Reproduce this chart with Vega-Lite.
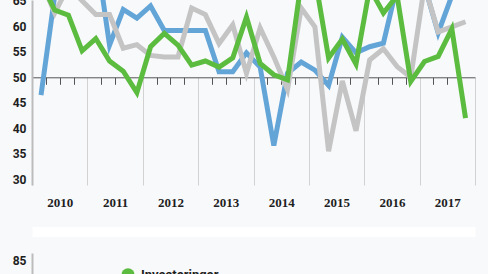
{
  "$schema": "https://vega.github.io/schema/vega-lite/v6.json",
  "background": "#f8f9fb",
  "padding": {"left": 12, "top": -6, "right": 13, "bottom": 0},
  "config": {
    "view": {"stroke": null},
    "axis": {"labelFont": "Roboto", "labelFontWeight": "bold", "labelColor": "#1e1e1e", "labelFontSize": 12}
  },
  "datasets": {
    "d": [
      {"t": 2010.163, "o": 46.5, "p": 69, "i": 68.6},
      {"t": 2010.410, "o": 66, "p": 62.6, "i": 63.2},
      {"t": 2010.658, "o": 70, "p": 67.9, "i": 62.2},
      {"t": 2010.905, "o": 72, "p": 65, "i": 55.2},
      {"t": 2011.152, "o": 75, "p": 62.3, "i": 57.6},
      {"t": 2011.400, "o": 56.3, "p": 62.3, "i": 53.2},
      {"t": 2011.647, "o": 63.3, "p": 55.7, "i": 51.2},
      {"t": 2011.894, "o": 61.6, "p": 56.4, "i": 47},
      {"t": 2012.141, "o": 64, "p": 54.3, "i": 56},
      {"t": 2012.389, "o": 59.2, "p": 54, "i": 58.6},
      {"t": 2012.636, "o": 59.2, "p": 54, "i": 56.3},
      {"t": 2012.883, "o": 59.2, "p": 63.6, "i": 52.4},
      {"t": 2013.131, "o": 59.2, "p": 62.3, "i": 53.2},
      {"t": 2013.378, "o": 51.1, "p": 56.6, "i": 52},
      {"t": 2013.625, "o": 51.1, "p": 60.3, "i": 53.8},
      {"t": 2013.873, "o": 54.8, "p": 50.8, "i": 61.8},
      {"t": 2014.120, "o": 52, "p": 59.7, "i": 52.7},
      {"t": 2014.367, "o": 36.6, "p": 54, "i": 50.5},
      {"t": 2014.614, "o": 50.8, "p": 47.6, "i": 49.5},
      {"t": 2014.862, "o": 53, "p": 63.6, "i": 68.8},
      {"t": 2015.109, "o": 51.4, "p": 59.9, "i": 69.6},
      {"t": 2015.356, "o": 48.4, "p": 35.5, "i": 53.8},
      {"t": 2015.604, "o": 57.9, "p": 49.3, "i": 57.5},
      {"t": 2015.851, "o": 54.8, "p": 39.5, "i": 52.6},
      {"t": 2016.098, "o": 56, "p": 53.4, "i": 67.5},
      {"t": 2016.346, "o": 56.7, "p": 55.6, "i": 62.6},
      {"t": 2016.593, "o": 68, "p": 52.1, "i": 66},
      {"t": 2016.840, "o": 70, "p": 50, "i": 49.2},
      {"t": 2017.087, "o": 68, "p": 68, "i": 53.1},
      {"t": 2017.335, "o": 58.7, "p": 58.9, "i": 54.1},
      {"t": 2017.582, "o": 66, "p": 59.9, "i": 59.5},
      {"t": 2017.829, "o": 69, "p": 60.9, "i": 42}
    ]
  },
  "bounds": "flush",
  "spacing": 68,
  "vconcat": [
    {
      "width": 443,
      "height": 185,
      "data": {"name": "d"},
      "resolve": {"axis": {"x": "independent", "y": "independent"}},
      "layer": [
        {
          "mark": {"type": "line", "strokeWidth": 5, "clip": true, "strokeJoin": "miter"},
          "encoding": {
            "x": {"field": "t", "type": "quantitative", "scale": {"domain": [2010, 2018], "nice": false, "zero": false},
              "axis": {"orient": "bottom", "values": [2010.5, 2011.5, 2012.5, 2013.5, 2014.5, 2015.5, 2016.5, 2017.5],
                "labelExpr": "'' + floor(datum.value)", "domain": false, "ticks": false, "tickSize": 0, "grid": false, "title": null,
                "labelFont": "Liberation Sans Narrow", "labelFontSize": 13, "labelPadding": 11}},
            "y": {"field": "o", "type": "quantitative", "scale": {"domain": [28.88, 65.16], "nice": false, "zero": false},
              "axis": {"values": [30, 35, 40, 45, 50, 55, 60, 65], "domainColor": "#bcbcbc", "domainWidth": 2, "ticks": false, "tickSize": 0,
                "labelPadding": 6, "grid": false, "title": null}},
            "color": {"datum": "Ordretilgang", "type": "nominal",
              "scale": {"domain": ["Investeringer", "Ordretilgang", "Produksjon"], "range": ["#5cbc40", "#64a5d8", "#c4c4c4"]},
              "legend": {"orient": "none", "legendX": 89, "legendY": 268, "title": null, "symbolType": "circle", "symbolSize": 180,
                "symbolStrokeWidth": 0, "labelFont": "Roboto", "labelFontWeight": "bold", "labelFontSize": 13, "labelColor": "#1e1e1e",
                "labelOffset": 6, "rowPadding": 10,
                "encode": {"symbols": {"update": {"fill": {"scale": "color", "field": "value"}, "strokeWidth": {"value": 0}}}}}}
          }
        },
        {
          "mark": {"type": "line", "strokeWidth": 5, "clip": true, "strokeJoin": "miter"},
          "encoding": {
            "x": {"field": "t", "type": "quantitative", "scale": {"domain": [2010, 2018], "nice": false, "zero": false},
              "axis": {"orient": "bottom", "offset": -107.7,
                "values": [2010, 2010.25, 2010.5, 2010.75, 2011, 2011.25, 2011.5, 2011.75, 2012, 2012.25, 2012.5, 2012.75, 2013, 2013.25, 2013.5, 2013.75, 2014, 2014.25, 2014.5, 2014.75, 2015, 2015.25, 2015.5, 2015.75, 2016, 2016.25, 2016.5, 2016.75, 2017, 2017.25, 2017.5, 2017.75, 2018],
                "labels": false, "domain": true, "domainColor": "#555555", "domainWidth": 1, "ticks": true,
                "tickSize": {"condition": {"test": "datum.value % 1 === 0", "value": 107.7}, "value": 7},
                "tickColor": {"condition": {"test": "datum.value % 1 === 0", "value": "#d2d2d2"}, "value": "#555555"},
                "tickWidth": 1, "grid": false, "title": null}},
            "y": {"field": "p", "type": "quantitative", "scale": {"domain": [28.88, 65.16], "nice": false, "zero": false}, "axis": null},
            "color": {"datum": "Produksjon", "type": "nominal"}
          }
        },
        {
          "mark": {"type": "line", "strokeWidth": 5, "clip": true, "strokeJoin": "miter"},
          "encoding": {
            "x": {"field": "t", "type": "quantitative", "scale": {"domain": [2010, 2018], "nice": false, "zero": false}, "axis": null},
            "y": {"field": "i", "type": "quantitative", "scale": {"domain": [28.88, 65.16], "nice": false, "zero": false}, "axis": null},
            "color": {"datum": "Investeringer", "type": "nominal"}
          }
        }
      ]
    },
    {
      "width": 443,
      "height": 117,
      "data": {"values": []},
      "mark": {"type": "line"},
      "encoding": {
        "x": {"field": "t", "type": "quantitative", "scale": {"domain": [2010, 2018], "nice": false, "zero": false},
          "axis": {"orient": "top", "offset": 21.5, "domain": true, "domainColor": "#ffffff", "domainWidth": 10, "labels": false, "ticks": false, "grid": false, "title": null}},
        "y": {"field": "v", "type": "quantitative", "scale": {"domain": [57, 87], "nice": false, "zero": false},
          "axis": {"values": [60, 65, 70, 75, 80, 85], "domainColor": "#bcbcbc", "domainWidth": 2, "ticks": false, "tickSize": 0,
            "labelPadding": 6, "grid": false, "title": null}}
      }
    }
  ]
}
